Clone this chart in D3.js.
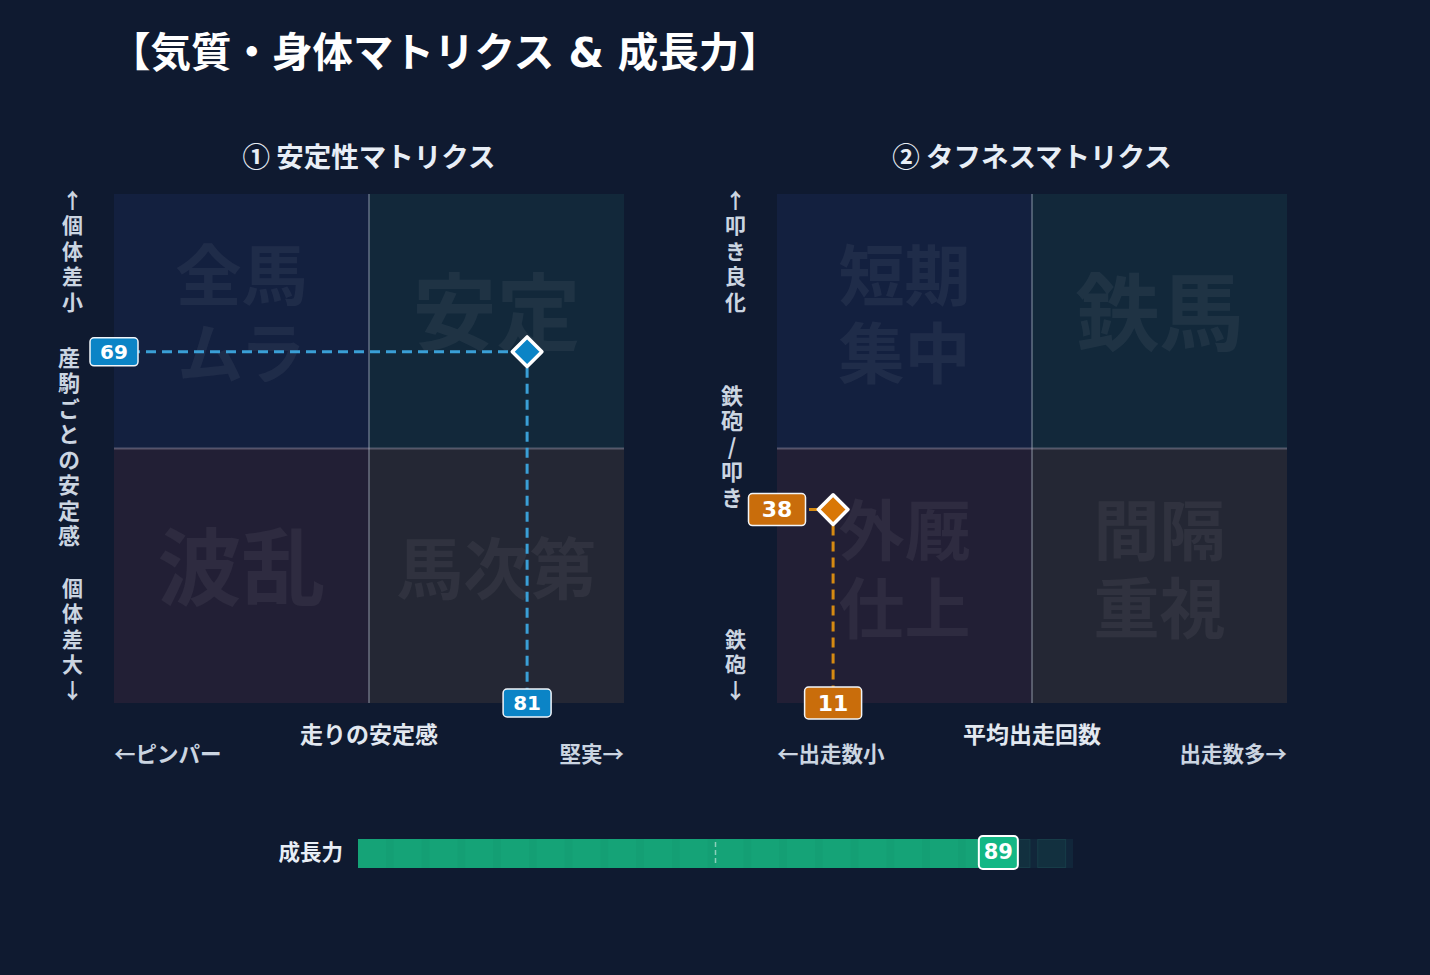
<!DOCTYPE html>
<html><head><meta charset="utf-8">
<script src="https://cdn.jsdelivr.net/npm/d3@7"></script>
<style>
html,body{margin:0;padding:0;background:#0f1a30;}
svg{display:block;}
text{font-family:"Noto Sans CJK JP","DejaVu Sans",sans-serif;font-weight:bold;}
text.lat{font-family:"DejaVu Sans","Noto Sans CJK JP",sans-serif;}
text.vert{writing-mode:vertical-rl;text-orientation:upright;}
</style></head>
<body>
<svg id="c" width="1430" height="975"></svg>
<script>
// ---- data ----
const mainTitle = "【気質・身体マトリクス & 成長力】";
const matrixTitles = ["① 安定性マトリクス", "② タフネスマトリクス"];
const quadrantLabels = [
  [["全馬","ムラ"], ["安定"], ["波乱"], ["馬次第"]],
  [["短期","集中"], ["鉄馬"], ["外厩","仕上"], ["間隔","重視"]]
];
const xValues = [81, 11];
const yValues = [69, 38];
const xAxisTitles = ["走りの安定感", "平均出走回数"];
const xAxisLow = ["←ピンパー", "←出走数小"];
const xAxisHigh = ["堅実→", "出走数多→"];
const yAxisTop = ["↑個体差小", "↑叩き良化"];
const yAxisMid = ["産駒ごとの安定感", "鉄砲/叩き"];
const yAxisBottom = ["個体差大↓", "鉄砲↓"];
const growthLabel = "成長力";
const growthValue = 89;

// ---- styles ----
const quadFill = ["#13203f", "#12283a", "#221f35", "#242734"];
const markerFill = ["#0b84c6", "#d97706"];
const lineColor = ["#3a9fd6", "#d68a12"];
const labelFill = ["#0b84c6", "#c96d0b"];

const svg = d3.select("#c");
svg.append("rect").attr("width",1430).attr("height",975).attr("fill","#0f1a30");

svg.append("text").attr("class","lat").attr("x",110).attr("y",53).attr("dominant-baseline","central")
  .attr("font-size",40.5).attr("fill","#ffffff").text(mainTitle);

const panels = [{x0:114},{x0:777}];
const plotTop = 194, plotBottom = 703, plotSize = 510;

panels.forEach((p, i) => {
  const x = d3.scaleLinear().domain([0,100]).range([p.x0, p.x0 + plotSize]);
  const y = d3.scaleLinear().domain([0,100]).range([plotBottom, plotTop]);
  const g = svg.append("g");
  const quads = [[0,50,50,100],[50,100,50,100],[0,50,0,50],[50,100,0,50]];
  g.selectAll("rect.q").data(quads).join("rect")
    .attr("x", d => x(d[0])).attr("y", d => y(d[3]))
    .attr("width", d => x(d[1]) - x(d[0])).attr("height", d => y(d[2]) - y(d[3]))
    .attr("fill", (d,k) => quadFill[k]);
  quads.forEach((q, k) => {
    const lines = quadrantLabels[i][k];
    const maxChars = d3.max(lines, l => l.length);
    const fs = lines.length > 1 ? 66 : Math.min(84, 200 / maxChars);
    const cx = (x(q[0]) + x(q[1])) / 2, cy = (y(q[2]) + y(q[3])) / 2 - 0.165 * fs;
    const lh = 78;
    const t = g.append("text").attr("text-anchor","middle").attr("dominant-baseline","central")
      .attr("font-size", fs).attr("fill","rgba(255,255,255,0.055)");
    lines.forEach((l, j) => {
      t.append("tspan").attr("x", cx).attr("y", cy + (j - (lines.length - 1) / 2) * lh)
        .attr("dominant-baseline","central").text(l);
    });
  });
  g.append("line").attr("x1", x(50)).attr("x2", x(50)).attr("y1", y(100)).attr("y2", y(0))
    .attr("stroke","rgba(190,200,215,0.35)").attr("stroke-width",2);
  g.append("line").attr("x1", x(0)).attr("x2", x(100)).attr("y1", y(50)).attr("y2", y(50))
    .attr("stroke","rgba(200,190,210,0.35)").attr("stroke-width",2);

  svg.append("text").attr("x", x(50)).attr("y", 155).attr("text-anchor","middle")
    .attr("dominant-baseline","central").attr("font-size",27.5).attr("fill","#e8eef6").text(matrixTitles[i]);

  svg.append("text").attr("x", x(50)).attr("y", 733).attr("text-anchor","middle")
    .attr("dominant-baseline","central").attr("font-size",23).attr("fill","#e2e8f0").text(xAxisTitles[i]);
  svg.append("text").attr("x", x(0)).attr("y", 752).attr("text-anchor","start")
    .attr("dominant-baseline","central").attr("font-size",21.5).attr("fill","#cbd5e1").text(xAxisLow[i]);
  svg.append("text").attr("x", x(100)).attr("y", 752).attr("text-anchor","end")
    .attr("dominant-baseline","central").attr("font-size",21.5).attr("fill","#cbd5e1").text(xAxisHigh[i]);

  // vertical y-axis texts
  const step = 25.5;
  const vtext = (str, cx, yPos, anchor, fs) => {
    svg.append("text").attr("class","vert").attr("x", cx).attr("y", yPos)
      .attr("text-anchor", anchor).attr("font-size", fs)
      .style("letter-spacing", (step - fs) + "px").attr("fill","#cbd5e1").text(str);
  };
  vtext(yAxisTop[i], x(0) - 41.5, y(100) + 6 - 10.5, "start", 21);
  vtext(yAxisMid[i], x(0) - 45, y(50) - 2 + (step - 22) / 2, "middle", 22);
  vtext(yAxisBottom[i], x(0) - 41.5, y(0) - 13 + 10.5 + (step - 21), "end", 21);

  const px = x(xValues[i]), py = y(yValues[i]);
  g.append("line").attr("x1", x(0)).attr("x2", px).attr("y1", py).attr("y2", py)
    .attr("stroke", lineColor[i]).attr("stroke-width",3).attr("stroke-dasharray","10,6");
  g.append("line").attr("x1", px).attr("x2", px).attr("y1", py).attr("y2", y(0))
    .attr("stroke", lineColor[i]).attr("stroke-width",3).attr("stroke-dasharray","10,6");
  g.append("path").attr("d", d3.symbol(d3.symbolDiamond2, 560)())
    .attr("transform", `translate(${px},${py})`)
    .attr("fill", markerFill[i]).attr("stroke","#ffffff").attr("stroke-width",3.5).attr("stroke-linejoin","round");
  const lw = i === 0 ? 48 : 57, lhh = i === 0 ? 28 : 32, lfs = i === 0 ? 20 : 22;
  const badge = (cx, cy, val) => {
    g.append("rect").attr("x", cx - lw/2).attr("y", cy - lhh/2).attr("width", lw).attr("height", lhh)
      .attr("rx",4).attr("fill", labelFill[i]).attr("stroke","#f1f5f9").attr("stroke-width",1.5);
    g.append("text").attr("class","lat").attr("x", cx).attr("y", cy).attr("text-anchor","middle").attr("dominant-baseline","central")
      .attr("font-size", lfs).attr("fill","#ffffff").text(val);
  };
  badge(x(0), py, yValues[i]);
  badge(px, y(0), xValues[i]);
});

// ---- growth bar ----
const gx = d3.scaleLinear().domain([0,100]).range([358, 1073]);
const gy0 = 839, gh = 29;
svg.append("text").attr("x", 343).attr("y", 850).attr("text-anchor","end").attr("dominant-baseline","central")
  .attr("font-size",21.5).attr("fill","#e8eef6").text(growthLabel);
svg.append("rect").attr("x", gx(0)).attr("y", gy0).attr("width", gx(100) - gx(0)).attr("height", gh)
  .attr("fill","#11263a");
const cells = d3.range(0, 100, 5);
svg.selectAll("rect.cell").data(cells).join("rect")
  .attr("x", d => gx(d) + 0.5).attr("y", gy0 + 0.5)
  .attr("width", d => (gx(d + 5) - gx(d)) * 0.78).attr("height", gh - 1)
  .attr("fill","#12303f").attr("stroke","#173c48").attr("stroke-width",1);
svg.append("rect").attr("x", gx(0)).attr("y", gy0).attr("width", gx(growthValue) - gx(0)).attr("height", gh)
  .attr("fill","#15a377");
svg.selectAll("rect.stripe").data(cells.filter(d => d + 5 <= growthValue)).join("rect")
  .attr("x", d => gx(d) + (gx(d + 5) - gx(d)) * 0.78).attr("y", gy0)
  .attr("width", d => (gx(d + 5) - gx(d)) * 0.22).attr("height", gh)
  .attr("fill","rgba(0,0,0,0.022)");
svg.append("line").attr("x1", gx(50)).attr("x2", gx(50)).attr("y1", gy0 + 3).attr("y2", gy0 + gh - 2)
  .attr("stroke","rgba(255,255,255,0.5)").attr("stroke-width",1.5).attr("stroke-dasharray","5,3");
const bx = gx(growthValue) + 4;
svg.append("rect").attr("x", bx - 19.5).attr("y", 836).attr("width", 39).attr("height", 33).attr("rx",4)
  .attr("fill","#13b785").attr("stroke","#ffffff").attr("stroke-width",2);
svg.append("text").attr("class","lat").attr("x", bx).attr("y", 852).attr("text-anchor","middle").attr("dominant-baseline","central")
  .attr("font-size",21).attr("fill","#ffffff").text(growthValue);
</script>
</body></html>
